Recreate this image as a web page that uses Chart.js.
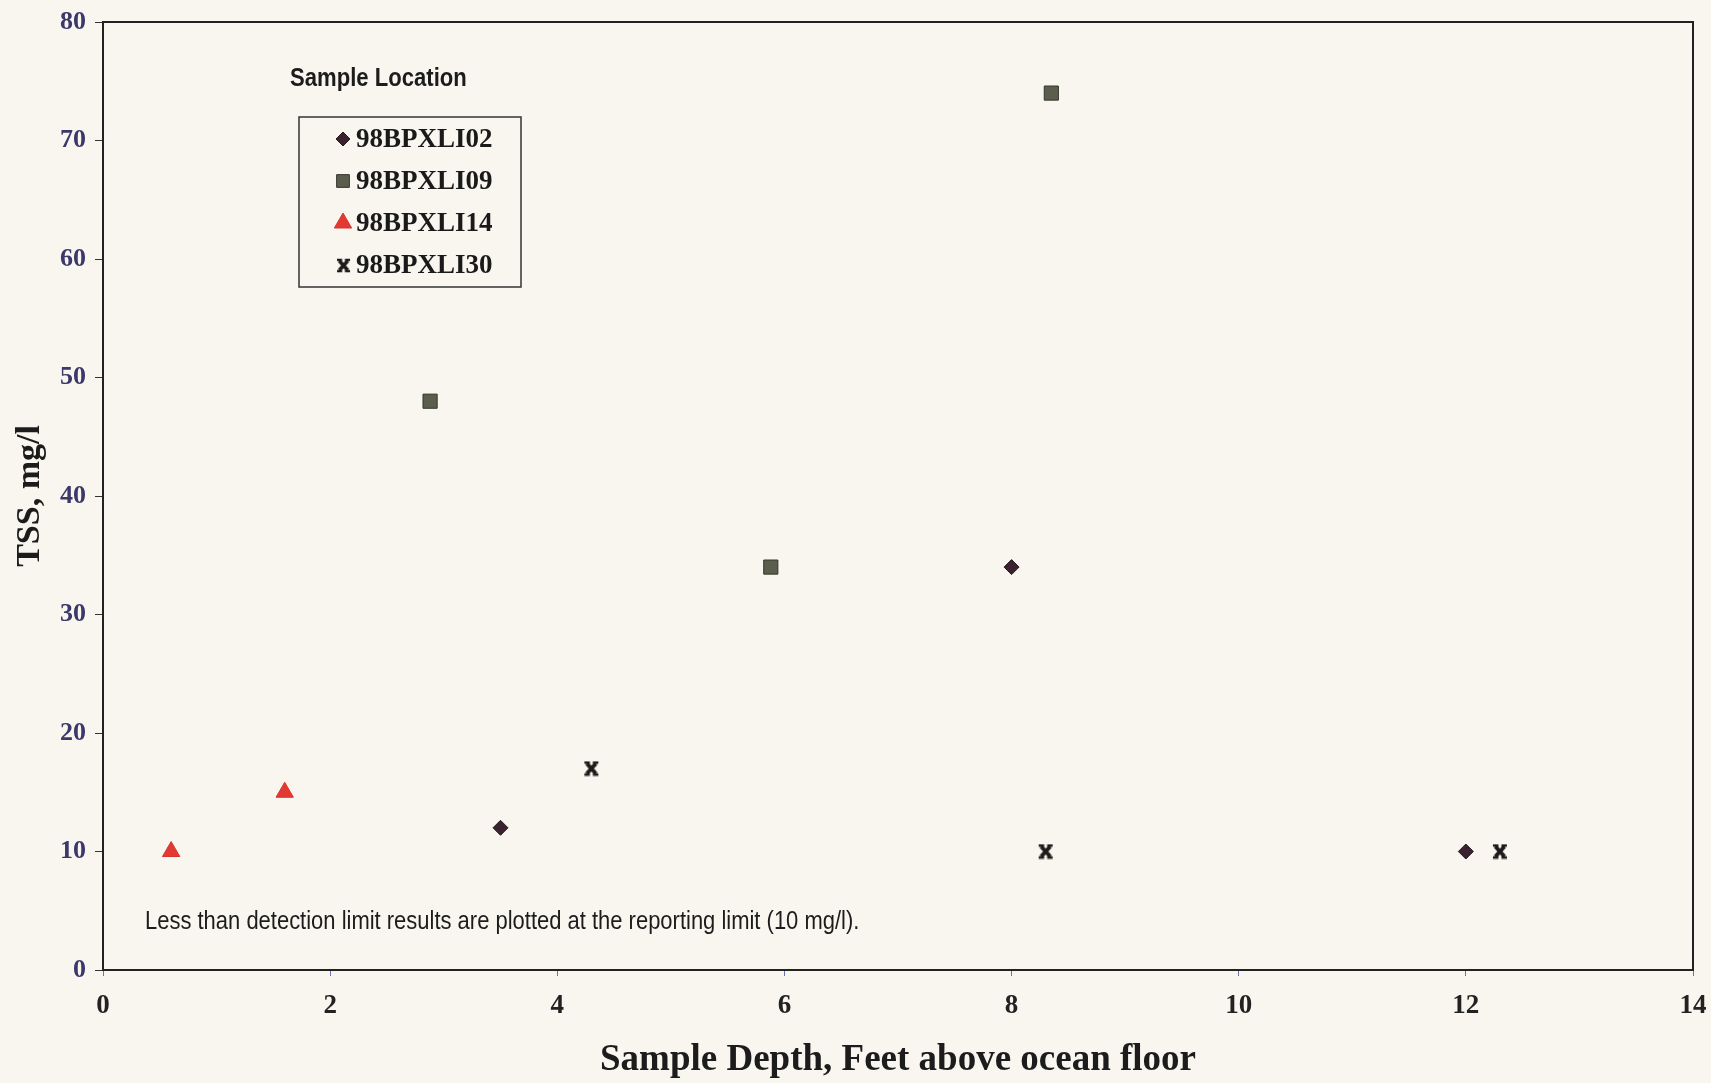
<!DOCTYPE html>
<html>
<head>
<meta charset="utf-8">
<script src="https://cdn.jsdelivr.net/npm/chart.js@4.4.1/dist/chart.umd.min.js"></script>
<style>
  html, body { margin: 0; padding: 0; background: #f8f6ef; }
  #wrap { width: 1711px; height: 1083px; position: relative; }
</style>
</head>
<body>
<div id="wrap"><canvas id="myChart" width="1711" height="1083"></canvas></div>
<script>
// données
var seriesNames = ["98BPXLI02", "98BPXLI09", "98BPXLI14", "98BPXLI30"];
var li02X = [3.5, 8, 12];
var li02Y = [12, 34, 10];
var li09X = [2.88, 5.88, 8.35];
var li09Y = [48, 34, 74];
var li14X = [0.6, 1.6];
var li14Y = [10, 15];
var li30X = [4.3, 8.3, 12.3];
var li30Y = [17, 10, 10];
var xTicks = [0, 2, 4, 6, 8, 10, 12, 14];
var yTicks = [0, 10, 20, 30, 40, 50, 60, 70, 80];
var legendTitle = "Sample Location";
var noteText = "Less than detection limit results are plotted at the reporting limit (10 mg/l).";
var xTitle = "Sample Depth, Feet above ocean floor";
var yTitle = "TSS, mg/l";

var canvas = document.getElementById("myChart");
var ctx = canvas.getContext('2d');

/**
 * marqueur en X à empattements (style Excel)
 */
function makeStar() {
    const c = document.createElement('canvas');
    c.width = 16; c.height = 16;
    const g = c.getContext('2d');
    g.strokeStyle = '#1e1a1a';
    g.lineWidth = 4;
    g.beginPath();
    g.moveTo(3.5, 3); g.lineTo(12.5, 13);
    g.moveTo(12.5, 3); g.lineTo(3.5, 13);
    g.stroke();
    g.lineWidth = 2.4;
    g.beginPath();
    g.moveTo(1, 2); g.lineTo(6.5, 2);
    g.moveTo(9.5, 2); g.lineTo(15, 2);
    g.moveTo(1, 14); g.lineTo(6.5, 14);
    g.moveTo(9.5, 14); g.lineTo(15, 14);
    g.stroke();
    return c;
}
var starImg = makeStar();

/**
 * mise en forme des données pour scatter graph
 */
function mef(x, y) {
    const li = [];
    for (let i = 0; i < x.length; i++) {
        li.push({x: x[i], y: y[i]});
    }
    return li;
}

/**
 * texte condensé horizontalement (police étroite absente)
 */
function narrowText(c, txt, x, y, sx) {
    c.save();
    c.translate(x, y);
    c.scale(sx, 1);
    c.fillText(txt, 0, 0);
    c.restore();
}

// cadre + légende + note
var decorPlugin = {
    id: 'decor',
    afterDraw(chart) {
        const c = chart.ctx;
        const a = chart.chartArea;
        c.save();
        // cadre
        c.strokeStyle = '#222';
        c.lineWidth = 2;
        c.strokeRect(a.left, a.top, a.right - a.left, a.bottom - a.top);

        // titre de légende
        c.fillStyle = '#1c1c1c';
        c.font = 'bold 26px "Liberation Sans", Arial';
        c.textBaseline = 'middle';
        c.textAlign = 'left';
        narrowText(c, legendTitle, a.left + 187, 79, 0.85);

        // boîte de légende
        c.strokeStyle = '#333';
        c.lineWidth = 1.5;
        c.strokeRect(a.left + 196, 117, 222, 170);
        const rows = [139, 181, 223, 265];
        chart.data.datasets.forEach(function(ds, i) {
            const y = rows[i];
            const mx = a.left + 240;
            if (ds.pointStyle === starImg) {
                c.drawImage(starImg, mx - 7, y - 7, 15, 15);
            } else {
                c.fillStyle = ds.backgroundColor;
                c.strokeStyle = ds.borderColor;
                c.lineWidth = 1;
                Chart.helpers.drawPoint(c, {
                    pointStyle: ds.pointStyle,
                    radius: ds.legendRadius,
                    borderWidth: 1
                }, mx, y);
            }
            c.fillStyle = '#1a1a1a';
            c.font = 'bold 27px "Liberation Serif", "Times New Roman", serif';
            c.textBaseline = 'middle';
            c.textAlign = 'left';
            c.fillText(ds.label, a.left + 253, y + 1);
        });

        // note
        c.fillStyle = '#1c1c1c';
        c.font = '26px "Liberation Sans", Arial';
        c.textBaseline = 'middle';
        c.textAlign = 'left';
        narrowText(c, noteText, a.left + 42, 922, 0.845);
        c.restore();
    }
};

var data = {
    datasets: [{
        label: seriesNames[0],
        data: mef(li02X, li02Y),
        pointStyle: 'rectRot',
        pointRadius: 7.5,
        legendRadius: 7,
        backgroundColor: '#3a2230',
        borderColor: '#2a1820',
        borderWidth: 1
    }, {
        label: seriesNames[1],
        data: mef(li09X, li09Y),
        pointStyle: 'rect',
        pointRadius: 10,
        legendRadius: 9,
        backgroundColor: '#5b5e4c',
        borderColor: '#33352a',
        borderWidth: 1
    }, {
        label: seriesNames[2],
        data: mef(li14X, li14Y),
        pointStyle: 'triangle',
        pointRadius: 10,
        legendRadius: 10,
        backgroundColor: '#e23a33',
        borderColor: '#d8332c',
        borderWidth: 1
    }, {
        label: seriesNames[3],
        data: mef(li30X, li30Y),
        pointStyle: starImg,
        pointRadius: 8,
        backgroundColor: '#1e1a1a',
        borderColor: '#1e1a1a'
    }]
};

var serif = '"Liberation Serif", "Times New Roman", serif';

var myChart = new Chart(ctx, {
    type: 'scatter',
    data: data,
    plugins: [decorPlugin],
    options: {
        responsive: false,
        animation: false,
        layout: {padding: {top: 22, right: 18, left: 0, bottom: 0}},
        plugins: {
            legend: {display: false},
            tooltip: {enabled: false}
        },
        scales: {
            x: {
                type: 'linear',
                min: 0, max: 14,
                afterBuildTicks: function(s) { s.ticks = xTicks.map(function(v) { return {value: v}; }); },
                afterFit: function(s) { s.height = 113; s.paddingLeft = 0; s.paddingRight = 0; },
                grid: {drawOnChartArea: false, drawTicks: true, tickLength: 6, tickColor: '#6a73b0'},
                border: {display: true, color: '#2a2c4a', width: 2},
                ticks: {font: {family: serif, size: 27, weight: 'bold'}, color: '#222', padding: 14, maxRotation: 0, autoSkip: false},
                title: {
                    display: true, text: xTitle, color: '#1c1c1c',
                    font: {family: serif, size: 37, weight: 'bold'},
                    padding: {top: 0, bottom: 0}
                }
            },
            y: {
                type: 'linear',
                min: 0, max: 80,
                afterBuildTicks: function(s) { s.ticks = yTicks.map(function(v) { return {value: v}; }); },
                afterFit: function(s) { s.width = 103; s.paddingTop = 0; s.paddingBottom = 0; },
                grid: {drawOnChartArea: false, drawTicks: true, tickLength: 8, tickColor: '#333'},
                border: {display: true, color: '#222', width: 2},
                ticks: {font: {family: serif, size: 26, weight: 'bold'}, color: '#3b386a', padding: 9, autoSkip: false},
                title: {
                    display: true, text: yTitle, color: '#1c1c1c',
                    font: {family: serif, size: 34, weight: 'bold'},
                    padding: {top: 10, bottom: 0}
                }
            }
        }
    }
});
</script>
</body>
</html>
